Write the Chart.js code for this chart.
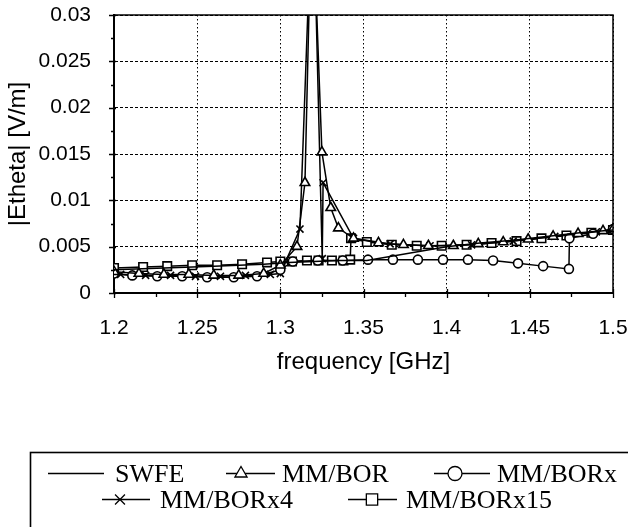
<!DOCTYPE html>
<html lang="en">
<head>
<meta charset="UTF-8">
<title>|Etheta| versus frequency</title>
<script src="https://cdn.jsdelivr.net/npm/chart.js"></script>
<style>
    html, body { margin: 0; padding: 0; background: #fff; }
    #wrap { width: 628px; height: 527px; }
</style>
</head>
<body>
<div id="wrap"><canvas id="ethetaChart" width="628" height="527"></canvas></div>
<script>
// axis ticks
const xTicks = [1.2, 1.25, 1.3, 1.35, 1.4, 1.45, 1.5];
const yTicks = [0, 0.005, 0.01, 0.015, 0.02, 0.025, 0.03];
const seriesNames = ['SWFE', 'MM/BOR', 'MM/BORx', 'MM/BORx4', 'MM/BORx15'];

// SWFE reference solution
const swfeFreq = [1.2, 1.23, 1.26, 1.29, 1.305, 1.32, 1.335, 1.352, 1.4, 1.42, 1.44, 1.46, 1.48, 1.5];
const swfeVals = [0.0025, 0.0027, 0.0029, 0.0031, 0.0033, 0.0034, 0.0035, 0.0035, 0.0050, 0.0054, 0.0057, 0.0061, 0.0065, 0.0068];

// MM/BOR
const borFreq = [1.2, 1.215, 1.23, 1.245, 1.26, 1.275, 1.29, 1.3, 1.31, 1.3148, 1.319, 1.325, 1.3303, 1.3349, 1.344,
                 1.359, 1.374, 1.389, 1.404, 1.419, 1.434, 1.449, 1.464, 1.479, 1.494, 1.5];
const borVals = [0.0023, 0.0021, 0.0020, 0.0020, 0.0019, 0.0019, 0.0021, 0.0030, 0.0050, 0.0119, 0.0440, 0.0152, 0.0092, 0.0070, 0.0059,
                 0.0054, 0.0052, 0.0051, 0.0051, 0.0053, 0.0055, 0.0058, 0.0061, 0.0064, 0.0067, 0.0069];

// MM/BORx
const bxFreq = [1.2, 1.211, 1.226, 1.241, 1.256, 1.272, 1.286, 1.3, 1.3075, 1.3225, 1.3375, 1.3527, 1.3677, 1.3827,
                1.3978, 1.4128, 1.4279, 1.4429, 1.458, 1.4735, 1.4738, 1.488, 1.5];
const bxVals = [0.0021, 0.0019, 0.0018, 0.0018, 0.0017, 0.0017, 0.0018, 0.0025, 0.0034, 0.0035, 0.0035, 0.0036, 0.0036, 0.0036,
                0.0036, 0.0036, 0.0035, 0.0032, 0.0029, 0.0026, 0.0059, 0.0064, 0.0069];

// MM/BORx4
const bx4Freq = [1.204, 1.219, 1.234, 1.249, 1.264, 1.279, 1.294, 1.3, 1.3118, 1.3195, 1.3252, 1.3257, 1.344,
                 1.366, 1.39, 1.415, 1.44, 1.465, 1.49, 1.5];
const bx4Vals = [0.0020, 0.0019, 0.0019, 0.0018, 0.0018, 0.0019, 0.0020, 0.0021, 0.0069, 0.0450, 0.0037, 0.0119, 0.0059,
                 0.0053, 0.0051, 0.0052, 0.0056, 0.0061, 0.0066, 0.0068];

// MM/BORx15
const bx15Freq = [1.2, 1.2175, 1.232, 1.247, 1.262, 1.277, 1.292, 1.3, 1.307, 1.316, 1.323, 1.331, 1.338, 1.342, 1.3425,
                  1.352, 1.367, 1.382, 1.397, 1.412, 1.427, 1.442, 1.457, 1.472, 1.487, 1.5];
const bx15Vals = [0.0027, 0.0028, 0.0029, 0.0030, 0.0030, 0.0031, 0.0033, 0.0034, 0.0034, 0.0035, 0.0035, 0.0035, 0.0035, 0.0036, 0.0059,
                  0.0055, 0.0052, 0.0051, 0.0051, 0.0052, 0.0054, 0.0056, 0.0059, 0.0062, 0.0065, 0.0068];

function pts(xs, ys) {
    return xs.map((x, i) => ({ x: x, y: ys[i] }));
}

function series(i, xs, ys, style, radius) {
    return {
        label: seriesNames[i],
        data: pts(xs, ys),
        borderColor: '#000',
        borderWidth: 1.5,
        pointStyle: style,
        pointRadius: radius,
        pointBorderColor: '#000',
        pointBackgroundColor: '#fff',
        pointBorderWidth: 1.6,
        tension: 0,
        fill: false
    };
}

// solid frame on top/right plus the small axis tick marks
const frameTicks = {
    id: 'frameTicks',
    afterDatasetsDraw(chart) {
        const { ctx, chartArea: a, scales: { x, y } } = chart;
        ctx.save();
        ctx.strokeStyle = '#000';
        ctx.lineWidth = 1.5;
        ctx.beginPath();
        ctx.moveTo(a.left, a.top);
        ctx.lineTo(a.right, a.top);
        ctx.lineTo(a.right, a.bottom);
        ctx.stroke();

        ctx.lineWidth = 1.3;
        ctx.beginPath();
        for (let k = 0; k <= 12; k++) {
            const px = Math.round(x.getPixelForValue(1.2 + k * 0.025)) + 0.5;
            const major = k % 2 === 0;
            ctx.moveTo(px, a.bottom - (major ? 4 : 1));
            ctx.lineTo(px, a.bottom + (major ? 5 : 4));
        }
        for (let k = 0; k <= 12; k++) {
            const py = Math.round(y.getPixelForValue(k * 0.0025)) + 0.5;
            const major = k % 2 === 0;
            ctx.moveTo(a.left - (major ? 5 : 3), py);
            ctx.lineTo(a.left + (major ? 2 : 1), py);
        }
        ctx.stroke();
        ctx.restore();
    }
};

// boxed legend under the plot, two rows
const legendRows = [
    { ds: 0, x0: 48, x1: 104, mx: null, tx: 115, y: 473 },
    { ds: 1, x0: 226, x1: 275, mx: 241, tx: 282, y: 473 },
    { ds: 2, x0: 434, x1: 490, mx: 455, tx: 497, y: 473 },
    { ds: 3, x0: 102, x1: 150, mx: 120, tx: 160, y: 499 },
    { ds: 4, x0: 348, x1: 397, mx: 372, tx: 406, y: 499 }
];

const boxLegend = {
    id: 'boxLegend',
    afterDraw(chart) {
        const ctx = chart.ctx;
        ctx.save();
        ctx.strokeStyle = '#000';
        ctx.lineWidth = 1.6;
        ctx.strokeRect(30.5, 452.5, 640, 120);

        ctx.font = '26px "Liberation Serif", "Times New Roman", serif';
        ctx.textBaseline = 'alphabetic';
        ctx.fillStyle = '#000';
        legendRows.forEach(r => {
            const ds = chart.data.datasets[r.ds];
            ctx.lineWidth = 1.5;
            ctx.beginPath();
            ctx.moveTo(r.x0, r.y + 0.5);
            ctx.lineTo(r.x1, r.y + 0.5);
            ctx.stroke();
            if (r.mx !== null) {
                ctx.fillStyle = '#fff';
                ctx.lineWidth = 1.3;
                Chart.helpers.drawPoint(ctx, {
                    pointStyle: ds.pointStyle,
                    radius: ds.pointStyle === 'rect' ? 8 : 7,
                    rotation: 0,
                    borderWidth: 1.3
                }, r.mx, r.y + 0.5);
                ctx.fillStyle = '#000';
            }
            ctx.fillText(ds.label, r.tx, r.y + 9);
        });
        ctx.restore();
    }
};

const tickFont = { family: '"Liberation Sans", Arial, sans-serif', size: 21 };
const titleFont = { family: '"Liberation Sans", Arial, sans-serif', size: 24 };

new Chart(document.getElementById('ethetaChart'), {
    type: 'line',
    data: {
        datasets: [
            series(0, swfeFreq, swfeVals, 'circle', 0),
            series(1, borFreq, borVals, 'triangle', 5.5),
            series(2, bxFreq, bxVals, 'circle', 4.5),
            series(3, bx4Freq, bx4Vals, 'crossRot', 5),
            series(4, bx15Freq, bx15Vals, 'rect', 6)
        ]
    },
    options: {
        responsive: false,
        animation: false,
        events: [],
        layout: { padding: { top: 15, right: 15, left: 0, bottom: 150 } },
        plugins: {
            legend: { display: false },
            tooltip: { enabled: false }
        },
        scales: {
            x: {
                type: 'linear',
                min: 1.2,
                max: 1.5,
                afterBuildTicks: s => { s.ticks = xTicks.map(v => ({ value: v })); },
                afterFit: s => {
                    s.height = 84;
                    s.paddingLeft = 0;
                    s.paddingRight = 0;
                },
                ticks: {
                    color: '#000',
                    font: tickFont,
                    padding: 23,
                    maxRotation: 0,
                    callback: v => String(+v.toFixed(2))
                },
                grid: { color: '#000', lineWidth: 1, drawTicks: false },
                border: { display: true, color: '#000', width: 2, dash: [1.5, 2.5] },
                title: {
                    display: true,
                    text: 'frequency [GHz]',
                    color: '#000',
                    font: titleFont,
                    padding: { top: 0, bottom: 0 }
                }
            },
            y: {
                min: 0,
                max: 0.03,
                afterBuildTicks: s => { s.ticks = yTicks.map(v => ({ value: v })); },
                afterFit: s => {
                    s.width = 114;
                    s.paddingTop = 0;
                    s.paddingBottom = 0;
                },
                ticks: {
                    color: '#000',
                    font: tickFont,
                    padding: 23,
                    callback: v => String(+v.toFixed(3))
                },
                grid: { color: '#000', lineWidth: 1, drawTicks: false },
                border: { display: true, color: '#000', width: 2, dash: [3, 2] },
                title: {
                    display: true,
                    text: '|Etheta| [V/m]',
                    color: '#000',
                    font: titleFont,
                    padding: { top: 4, bottom: 0 }
                }
            }
        }
    },
    plugins: [frameTicks, boxLegend]
});
</script>
</body>
</html>
